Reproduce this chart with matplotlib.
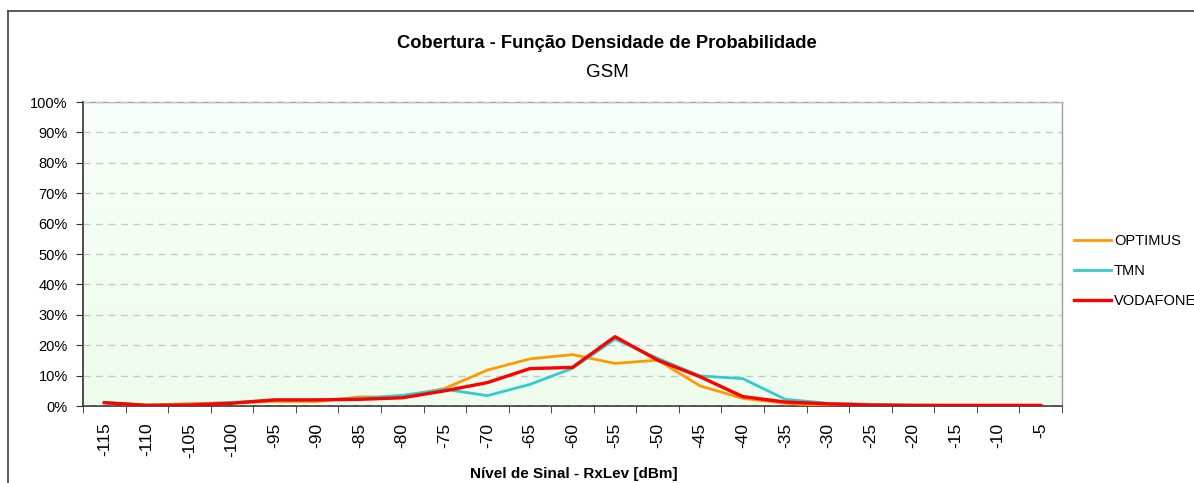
import numpy as np
import matplotlib
matplotlib.use('Agg')
import matplotlib.pyplot as plt
from matplotlib.lines import Line2D

plt.rcParams['font.family'] = ['Liberation Sans', 'DejaVu Sans']

levels = [-115, -110, -105, -100, -95, -90, -85, -80, -75, -70, -65, -60,
          -55, -50, -45, -40, -35, -30, -25, -20, -15, -10, -5]
optimus = [1.1, 0.3, 0.8, 1.1, 1.5, 1.5, 3.0, 2.9, 5.8, 11.8, 15.5, 16.9,
           14.0, 15.1, 6.6, 2.5, 0.9, 0.1, 0.1, 0.1, 0.1, 0.1, 0.1]
tmn = [1.1, 0.3, 0.5, 1.2, 2.0, 2.0, 2.5, 3.5, 5.5, 3.4, 7.1, 12.4,
       22.0, 15.7, 9.9, 9.0, 2.2, 0.9, 0.6, 0.3, 0.2, 0.2, 0.2]
vodafone = [1.1, 0.2, 0.3, 0.9, 2.0, 2.0, 2.2, 2.7, 5.0, 7.7, 12.3, 12.7,
            22.8, 15.1, 9.6, 3.1, 1.3, 0.7, 0.3, 0.2, 0.2, 0.2, 0.2]

series = [('OPTIMUS', optimus, '#FF9900', 2.0),
          ('TMN', tmn, '#33CCCC', 2.0),
          ('VODAFONE', vodafone, '#FF0000', 2.4)]

W, H = 1194, 483
fig = plt.figure(figsize=(W / 100, H / 100), dpi=100)
ax = fig.add_axes([83 / W, 1 - 406 / H, (1062 - 83) / W, (406 - 102) / H])

# chart frame (cut off on the right and bottom, as in the original)
fig.add_artist(Line2D([8 / W, 1.01], [1 - 11 / H] * 2, color='#404040', lw=1.2,
                      transform=fig.transFigure))
fig.add_artist(Line2D([8 / W] * 2, [1 - 11 / H, -0.01], color='#404040', lw=1.2,
                      transform=fig.transFigure))

# soft green gradient background
grad = np.linspace(0, 1, 256).reshape(-1, 1)
cmap = matplotlib.colors.LinearSegmentedColormap.from_list('bg', ['#F9FFF9', '#EDFCED'])
ax.imshow(grad, extent=[0, 1, 0, 1], transform=ax.transAxes, cmap=cmap,
          aspect='auto', zorder=0)

x = np.arange(len(levels))
for name, vals, c, lw in series:
    ax.plot(x, vals, color=c, lw=lw, label=name, zorder=3)

ax.set_xlim(-0.5, len(levels) - 0.5)
ax.set_ylim(0, 100)
ax.set_yticks(range(0, 101, 10))
ax.set_yticklabels([f'{v}%' for v in range(0, 101, 10)], fontsize=10.5)
ax.yaxis.grid(True, ls=(0, (5, 4)), color='#C8C8C8', lw=1)
ax.set_axisbelow(False)
for gl in ax.get_ygridlines():
    gl.set_zorder(1)

ax.set_xticks(x)
ax.set_xticklabels([str(v) for v in levels], rotation=90, fontsize=12.5)
ax.set_xticks(np.arange(-0.5, len(levels)), minor=True)
ax.tick_params(axis='x', which='major', length=0, pad=12)
ax.tick_params(axis='x', which='minor', length=5, color='#303030')
ax.tick_params(axis='y', length=5, color='#303030', pad=6)

for side in ('left', 'bottom'):
    ax.spines[side].set_color('#303030')
    ax.spines[side].set_linewidth(1.2)
for side in ('top', 'right'):
    ax.spines[side].set_color('#A0A0A0')
    ax.spines[side].set_linewidth(1)

fig.text(607 / W, 1 - 44 / H, 'Cobertura - Função Densidade de Probabilidade',
         ha='center', va='center', fontsize=13.2, fontweight='bold')
fig.text(607 / W, 1 - 72 / H, 'GSM', ha='center', va='center', fontsize=13.5)
fig.text(574 / W, 1 - 474 / H, 'Nível de Sinal - RxLev [dBm]',
         ha='center', va='center', fontsize=11, fontweight='bold')

ax.legend(loc='center left', bbox_to_anchor=(1.0, (406 - 271) / 304), frameon=False,
          fontsize=10.5, handlelength=2.5, handletextpad=0.2, labelspacing=1.1,
          borderaxespad=0.45)

fig.savefig('out.png', dpi=100)
